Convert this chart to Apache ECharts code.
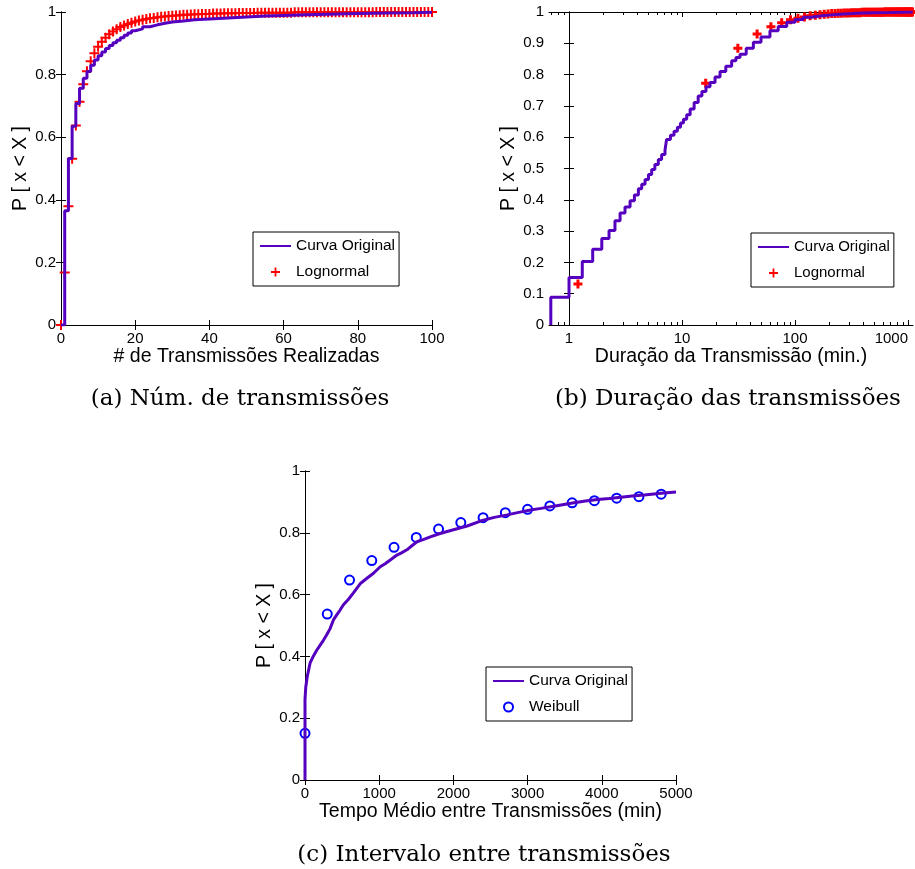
<!DOCTYPE html>
<html>
<head>
<meta charset="utf-8">
<script src="https://cdn.jsdelivr.net/npm/echarts@6/dist/echarts.min.js"></script>
<style>
  html, body { margin: 0; padding: 0; background: #fff; }
  #chart { width: 915px; height: 869px; }
</style>
</head>
<body>
<div id="chart"></div>
<script>
// ---------- (a) number of transmissions per user ----------
const countX = [0,1,2,3,4,5,6,7,8,9,10,11,12,13,14,15,16,17,18,19,20,
  22,24,26,28,30,33,36,40,45,50,55,60,66,72,80,88,95,100];
const countCdf = [0,0.365,0.532,0.635,0.708,0.756,0.788,0.810,0.830,0.847,0.860,
  0.872,0.883,0.893,0.902,0.910,0.918,0.926,0.933,0.940,0.946,
  0.953,0.959,0.964,0.968,0.971,0.975,0.978,0.981,0.984,0.987,0.989,0.991,0.993,0.995,0.997,0.998,0.999,1.0];
// lognormal fit evaluated at every integer count 0..100
const fitCountX = Array.from({ length: 101 }, (_, i) => i);
const fitCountCdf = [
  0,0.168,0.379,0.531,0.637,0.713,0.769,0.811,0.843,0.868,
  0.889,0.905,0.918,0.929,0.938,0.945,0.952,0.957,0.962,0.966,
  0.970,0.973,0.975,0.978,0.980,0.981,0.983,0.985,0.986,0.987,
  0.988,0.989,0.990,0.991,0.991,0.992,0.993,0.993,0.994,0.994,
  0.994,0.995,0.995,0.995,0.996,0.996,0.996,0.996,0.997,0.997,
  0.997,0.997,0.997,0.998,0.998,0.998,0.998,0.998,0.998,0.998,
  0.998,0.998,0.998,0.999,0.999,0.999,0.999,0.999,0.999,0.999,
  0.999,0.999,0.999,0.999,0.999,0.999,0.999,0.999,0.999,0.999,
  0.999,0.999,0.999,0.999,0.999,1,1,1,1,1,
  1,1,1,1,1,1,1,1,1,1,1];

// ---------- (b) transmission duration (min, log scale) ----------
const durX = [0.69,0.69,1.0,1.31,1.62,1.95,2.26,2.55,2.83,3.13,3.47,3.79,4.11,4.4,4.71,5.05,5.39,5.75,6.17,6.6,7.07,
  7.3,7.9,8.5,9.1,9.7,10.3,11.0,11.8,12.8,13.9,15.0,16.3,17.7,19.6,21.7,24.4,27.5,30.0,32.6,37.0,42.8,
  50,60,71,84.5,100,118,140,166,200,250,320,400,520,700,900,1100];
const durCdf = [0,0.089,0.152,0.203,0.242,0.276,0.302,0.333,0.358,0.377,0.397,0.415,0.435,0.450,0.465,0.481,0.497,0.513,0.529,0.545,0.558,
  0.593,0.606,0.619,0.632,0.645,0.657,0.672,0.690,0.711,0.732,0.746,0.761,0.775,0.792,0.810,0.827,0.844,0.855,0.865,0.884,0.903,
  0.920,0.940,0.954,0.967,0.976,0.983,0.987,0.990,0.993,0.995,0.997,0.998,0.9985,0.9993,0.9997,1.0];
const fitDurX = [1.2,16.2,31.2,46.2,61.2,76.2,91.2,106.2,121.2,136.2,151.2,166.2,181.2,196.2,211.2,226.2,241.2,256.2,271.2,286.2,
  301.2,316.2,331.2,346.2,361.2,376.2,391.2,406.2,421.2,436.2,451.2,466.2,481.2,496.2,511.2,526.2,541.2,556.2,571.2,586.2,
  601.2,616.2,631.2,646.2,661.2,676.2,691.2,706.2,721.2,736.2,751.2,766.2,781.2,796.2,811.2,826.2,841.2,856.2,871.2,886.2,
  901.2,916.2,931.2,946.2,961.2,976.2,991.2,1006.2,1021.2,1036.2,1051.2,1066.2,1081.2,1096.2];
const fitDurCdf = [0.131,0.772,0.884,0.930,0.953,0.966,0.975,0.980,0.984,0.988,0.990,0.991,0.993,0.994,0.995,0.995,0.996,0.996,0.997,0.997,
  0.997,0.998,0.998,0.998,0.998,0.998,0.999,0.999,0.999,0.999,0.999,0.999,0.999,0.999,0.999,0.999,0.999,0.999,0.999,0.999,
  0.999,1,1,1,1,1,1,1,1,1,1,1,1,1,1,1,1,1,1,1,
  1,1,1,1,1,1,1,1,1,1,1,1,1,1];
const durRange = [0.665, 1107];
const durMajorTicks = [1, 10, 100, 1000];
const durMinorTicks = [0.7,0.8,0.9,2,3,4,5,6,7,8,9,20,30,40,50,60,70,80,90,200,300,400,500,600,700,800,900];

// ---------- (c) mean interval between transmissions (min) ----------
const gapX = [0,0,10,30,68,110,158,200,248,293,338,383,430,473,518,586,650,743,830,923,
  1014,1080,1149,1239,1300,1374,1440,1509,1600,1689,1800,1915,2050,2185,2365,2550,2725,2880,3040,3180,
  3311,3470,3626,3780,3941,4100,4257,4410,4572,4800,5000];
const gapCdf = [0,0.26,0.30,0.334,0.378,0.40,0.42,0.435,0.452,0.47,0.49,0.518,0.535,0.55,0.567,0.585,0.605,0.635,0.652,0.669,
  0.69,0.70,0.712,0.728,0.735,0.745,0.758,0.771,0.779,0.787,0.796,0.804,0.813,0.822,0.838,0.85,0.858,0.866,0.874,0.879,
  0.884,0.891,0.897,0.903,0.908,0.911,0.915,0.919,0.922,0.928,0.932];
const weibullX = [0,300,600,900,1200,1500,1800,2100,2400,2700,3000,3300,3600,3900,4200,4500,4800];
const weibullCdf = [0.151,0.537,0.647,0.71,0.753,0.785,0.812,0.833,0.849,0.865,0.876,0.887,0.897,0.904,0.912,0.917,0.925];

// ---------- styling ----------
const SANS = "'Liberation Sans', Arial, Helvetica, sans-serif";
const SERIF = "'DejaVu Serif', serif";
const PURPLE = '#5500bf';
const RED = '#ff0000';
const BLUE = '#0000ff';
const PLUS = 'path://M4,0H6V4H10V6H6V10H4V6H0V4H4Z';
const PLUS_BOLD = 'path://M3,0H6V3H9V6H6V9H3V6H0V3H3Z';
const Y_TITLE = 'P [ x < X ]';

const zip = (xs, ys) => xs.map((x, i) => [x, ys[i]]);
const plain = v => String(+Number(v).toPrecision(6));
// the duration axis is a decade axis: positions are log10(minutes)
const lg = v => Math.log10(v);
const zipLog = (xs, ys) => xs.map((x, i) => [lg(x), ys[i]]);
const fromLog = v => String(Math.round(Math.pow(10, v)));

const tickStyle = { show: true, inside: true, length: 5, lineStyle: { color: '#000', width: 1 } };
const lineStyle = { show: true, lineStyle: { color: '#000', width: 1 } };
const labelStyle = { color: '#000', fontFamily: SANS, fontSize: 15, formatter: plain };
const nameStyle = { color: '#000', fontFamily: SANS, fontSize: 19.5 };

function mainX(grid, extra) {
  return Object.assign({
    gridIndex: grid, type: 'value', position: 'bottom',
    axisLine: lineStyle, axisTick: tickStyle, splitLine: { show: false },
    axisLabel: Object.assign({ margin: 6 }, labelStyle),
    nameLocation: 'middle', nameGap: 20, nameTextStyle: nameStyle
  }, extra);
}
function mirrorX(grid, extra) {
  return Object.assign({
    gridIndex: grid, type: 'value', position: 'top',
    axisLine: lineStyle, axisTick: tickStyle, splitLine: { show: false },
    axisLabel: { show: false }
  }, extra);
}
function mainY(grid, extra) {
  return Object.assign({
    gridIndex: grid, type: 'value', position: 'left', min: 0, max: 1,
    axisLine: lineStyle, axisTick: tickStyle, splitLine: { show: false },
    axisLabel: Object.assign({ margin: 5 }, labelStyle),
    name: Y_TITLE, nameLocation: 'middle', nameGap: 30, nameTextStyle: nameStyle
  }, extra);
}
function mirrorY(grid, extra) {
  return Object.assign({
    gridIndex: grid, type: 'value', position: 'right', min: 0, max: 1,
    axisLine: lineStyle, axisTick: tickStyle, splitLine: { show: false },
    axisLabel: { show: false }
  }, extra);
}

const logCommon = { min: lg(durRange[0]), max: lg(durRange[1]) };
const majorLog = durMajorTicks.map(lg);
const minorLog = durMinorTicks.map(lg);

function legendBox(left, top, names, fontSize) {
  return {
    orient: 'vertical', left: left, top: top,
    data: names.map(n => n === 'Curva Original'
      ? { name: n, itemStyle: { opacity: 0 } }
      : { name: n }),
    selectedMode: false,
    borderColor: '#000', borderWidth: 1, borderRadius: 0,
    padding: [5, 4, 5, 6], itemGap: 8, itemWidth: 31, itemHeight: 9,
    textStyle: { color: '#000', fontFamily: SANS, fontSize: fontSize, lineHeight: 18 }
  };
}

const option = {
  animation: false,
  backgroundColor: '#fff',
  grid: [
    { left: 61, top: 12, width: 371, height: 313, outerBoundsMode: 'none' },
    { left: 549, top: 12, width: 364, height: 313, outerBoundsMode: 'none' },
    { left: 305, top: 471, width: 371, height: 309, outerBoundsMode: 'none' }
  ],
  xAxis: [
    mainX(0, { min: 0, max: 100, interval: 20, name: '# de Transmissões Realizadas' }),
    mirrorX(0, { min: 0, max: 100, interval: 20 }),
    mainX(1, Object.assign({}, logCommon, {
      name: 'Duração da Transmissão (min.)',
      axisTick: Object.assign({}, tickStyle, { customValues: majorLog }),
      axisLabel: Object.assign({}, labelStyle, {
        margin: 6, customValues: majorLog, formatter: fromLog, alignMaxLabel: 'right'
      })
    })),
    mirrorX(1, Object.assign({}, logCommon, {
      position: 'bottom', axisLine: { show: false },
      axisTick: Object.assign({}, tickStyle, { length: 3, customValues: minorLog })
    })),
    mirrorX(1, Object.assign({}, logCommon, {
      axisTick: Object.assign({}, tickStyle, { customValues: majorLog })
    })),
    mirrorX(1, Object.assign({}, logCommon, {
      axisLine: { show: false },
      axisTick: Object.assign({}, tickStyle, { length: 3, customValues: minorLog })
    })),
    mainX(2, { min: 0, max: 5000, interval: 1000, name: 'Tempo Médio entre Transmissões (min)' }),
    mirrorX(2, { min: 0, max: 5000, interval: 1000 })
  ],
  yAxis: [
    mainY(0, { interval: 0.2 }),
    mirrorY(0, { interval: 0.2 }),
    mainY(1, { interval: 0.1 }),
    mirrorY(1, { interval: 0.1 }),
    mainY(2, { interval: 0.2 }),
    mirrorY(2, { interval: 0.2 })
  ],
  legend: [
    legendBox(253, 232, ['Curva Original', 'Lognormal'], 15.5),
    legendBox(751, 233, ['Curva Original', 'Lognormal'], 15),
    legendBox(486, 667, ['Curva Original', 'Weibull'], 15.5)
  ],
  series: [
    {
      name: 'Curva Original', type: 'line', xAxisIndex: 0, yAxisIndex: 0,
      data: zip(countX, countCdf), step: 'end', symbol: 'none',
      lineStyle: { color: PURPLE, width: 3 }, itemStyle: { color: PURPLE }
    },
    {
      name: 'Lognormal', type: 'scatter', xAxisIndex: 0, yAxisIndex: 0,
      data: zip(fitCountX, fitCountCdf), symbol: PLUS, symbolSize: 10,
      itemStyle: { color: RED, opacity: 1 }
    },
    {
      name: 'Curva Original', type: 'line', xAxisIndex: 2, yAxisIndex: 2,
      data: zipLog(durX, durCdf), step: 'end', symbol: 'none',
      lineStyle: { color: PURPLE, width: 3 }, itemStyle: { color: PURPLE }
    },
    {
      name: 'Lognormal', type: 'scatter', xAxisIndex: 2, yAxisIndex: 2,
      data: zipLog(fitDurX, fitDurCdf), symbol: PLUS_BOLD, symbolSize: 9,
      itemStyle: { color: RED, opacity: 1 }
    },
    {
      name: 'Curva Original', type: 'line', xAxisIndex: 6, yAxisIndex: 4,
      data: zip(gapX, gapCdf), symbol: 'none',
      lineStyle: { color: PURPLE, width: 3 }, itemStyle: { color: PURPLE }
    },
    {
      name: 'Weibull', type: 'scatter', xAxisIndex: 6, yAxisIndex: 4,
      data: zip(weibullX, weibullCdf), symbol: 'circle', symbolSize: 9,
      itemStyle: { color: '#fff', borderColor: BLUE, borderWidth: 2, opacity: 1 }
    }
  ],
  graphic: [
    { type: 'text', x: 240, y: 399, style: { text: '(a) Núm. de transmissões', fontFamily: SERIF, fontSize: 23, fill: '#000', align: 'center', verticalAlign: 'middle' } },
    { type: 'text', x: 728, y: 399, style: { text: '(b) Duração das transmissões', fontFamily: SERIF, fontSize: 23, fill: '#000', align: 'center', verticalAlign: 'middle' } },
    { type: 'text', x: 484, y: 855, style: { text: '(c) Intervalo entre transmissões', fontFamily: SERIF, fontSize: 23, fill: '#000', align: 'center', verticalAlign: 'middle' } }
  ]
};

const chart = echarts.init(document.getElementById('chart'), null, { renderer: 'canvas' });
chart.setOption(option);
</script>
</body>
</html>
